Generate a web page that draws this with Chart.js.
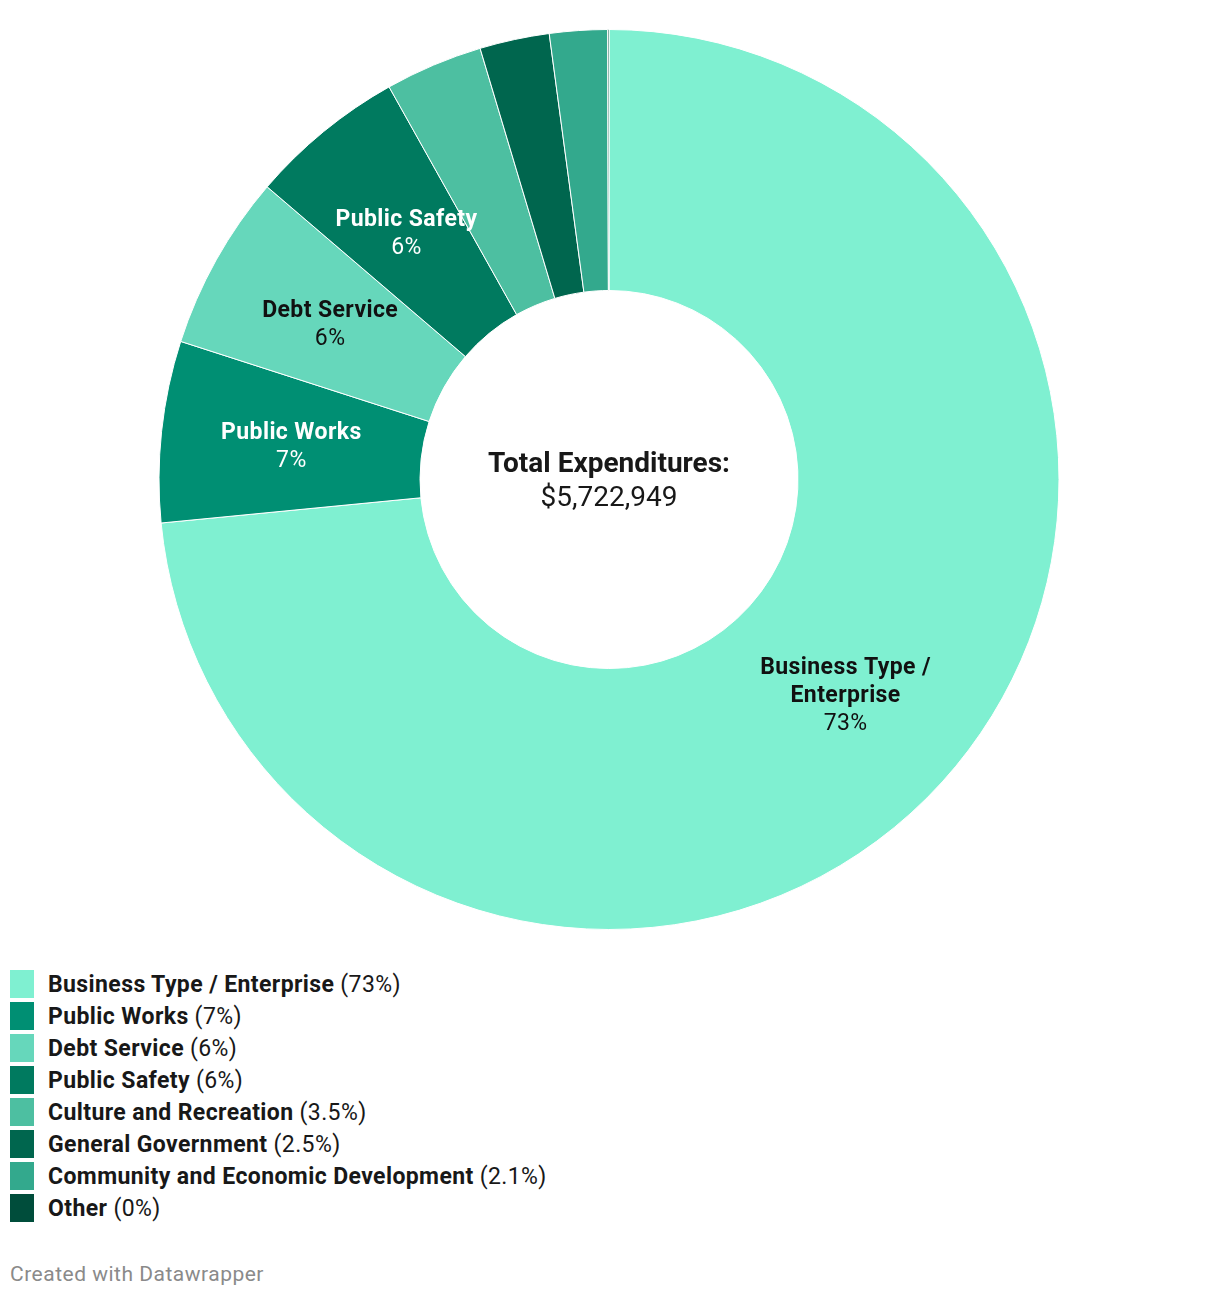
<!DOCTYPE html>
<html>
<head>
<meta charset="utf-8">
<script src="https://cdn.jsdelivr.net/npm/chart.js@4.4.0/dist/chart.umd.min.js"></script>
<style>
  body { margin: 0; background: #fff; font-family: Roboto, sans-serif; color: #181818; }
  #wrap { position: relative; width: 1220px; height: 1298px; }
  #chart-box { position: absolute; left: 0; top: 29px; width: 1218px; height: 901px; }
  #legend { position: absolute; left: 10px; top: 968px; }
  .item { display: flex; align-items: center; height: 32px; font-size: 23px; letter-spacing: 0.4px; }
  .sw { width: 24px; height: 28px; margin-right: 14px; flex: none; }
  .item b { font-weight: 700; margin-right: 6px; }
  #credit { position: absolute; left: 10px; top: 1262px; font-size: 21px; letter-spacing: 0.5px; color: #8a8a8a; }
</style>
</head>
<body>
<div id="wrap">
  <div id="chart-box"><canvas id="donut"></canvas></div>
  <div id="legend"></div>
  <div id="credit">Created with Datawrapper</div>
</div>
<script>
// categories, shares of total expenditures (%)
const categories = ['Business Type / Enterprise', 'Public Works', 'Debt Service', 'Public Safety',
  'Culture and Recreation', 'General Government', 'Community and Economic Development', 'Other'];
const shares = [73.4, 6.5, 6.3, 5.6, 3.5, 2.5, 2.07, 0.05];
const shareLabels = ['73%', '7%', '6%', '6%', '3.5%', '2.5%', '2.1%', '0%'];
const colors = ['#7ff0d1', '#008f73', '#66d7bb', '#007a5f', '#4dbfa1', '#00664e', '#33a98d', '#004d3b'];
const showInside = [true, true, true, true, false, false, false, false];
const darkSlice = [false, true, false, true, true, true, true, true];
const totalLabel = 'Total Expenditures:';
const totalValue = '$5,722,949';

const sliceLabels = {
    id: 'sliceLabels',
    afterDatasetsDraw(chart) {
        const ctx = chart.ctx;
        const meta = chart.getDatasetMeta(0);
        ctx.save();
        ctx.textAlign = 'center';
        ctx.textBaseline = 'middle';
        ctx.letterSpacing = '0.4px';
        meta.data.forEach((arc, i) => {
            if (!showInside[i]) return;
            const p = arc.tooltipPosition();
            // long name wraps onto two lines
            const lines = categories[i].length > 20 ? ['Business Type /', 'Enterprise'] : [categories[i]];
            const rows = lines.length + 1;
            let y = p.y + 2 - (rows - 1) * 28 / 2;
            ctx.fillStyle = darkSlice[i] ? '#ffffff' : '#111111';
            ctx.font = 'bold 23px Roboto';
            lines.forEach(l => { ctx.fillText(l, p.x, y); y += 28; });
            ctx.font = '23px Roboto';
            ctx.fillText(shareLabels[i], p.x, y);
        });

        // center total
        const c = meta.data[0];
        ctx.letterSpacing = '0px';
        ctx.fillStyle = '#181818';
        ctx.font = 'bold 28px Roboto';
        ctx.fillText(totalLabel, c.x, c.y - 15);
        ctx.font = '28px Roboto';
        ctx.fillText(totalValue, c.x, c.y + 19);
        ctx.restore();
    }
};

new Chart(document.getElementById('donut'), {
    type: 'doughnut',
    data: {
        labels: categories,
        datasets: [{
            data: shares,
            backgroundColor: colors,
            borderColor: '#ffffff',
            borderWidth: 1
        }]
    },
    options: {
        responsive: true,
        maintainAspectRatio: false,
        animation: false,
        cutout: '42%',
        layout: { padding: 0 },
        plugins: { legend: { display: false }, tooltip: { enabled: false } }
    },
    plugins: [sliceLabels]
});

// legend
document.getElementById('legend').innerHTML = categories.map((c, i) => `
    <div class="item"><span class="sw" style="background:${colors[i]}"></span><b>${c}</b><span>(${shareLabels[i]})</span></div>
`).join('');
</script>
</body>
</html>
